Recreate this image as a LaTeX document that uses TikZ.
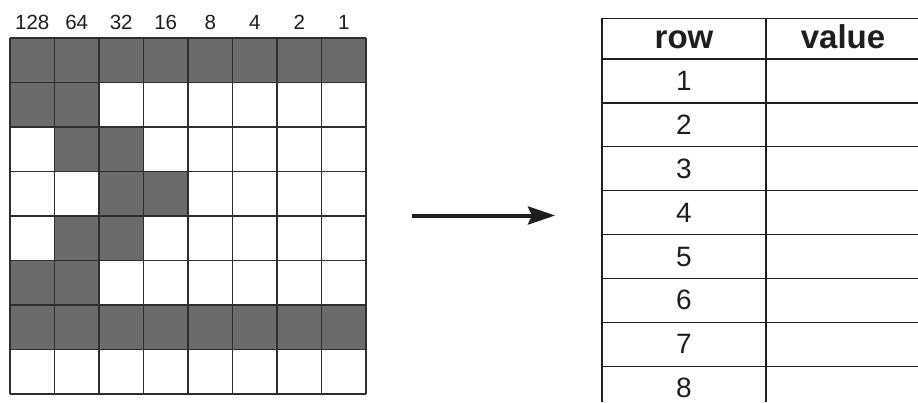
\documentclass[tikz,border=0pt]{standalone}
\usepackage{fontspec}
\setmainfont{Liberation Sans}
\usetikzlibrary{arrows.meta}
\definecolor{cellgray}{HTML}{6B6B6B}
\definecolor{linegray}{HTML}{2E2E2E}
\definecolor{inkc}{HTML}{1E1E1E}
\begin{document}
\begin{tikzpicture}[x=1pt,y=-1pt,
  bitlabel/.style={inner sep=0pt, anchor=base, font=\fontsize{20.5}{21}\selectfont, text=inkc},
  hdr/.style={inner sep=0pt, anchor=base, font=\fontsize{33}{34}\selectfont\bfseries, text=inkc},
  rownum/.style={inner sep=0pt, anchor=base, font=\fontsize{28}{30}\selectfont, text=inkc},
  gridline/.style={draw=linegray, line width=1.4pt},
  tabline/.style={draw=inkc, line width=1.3pt},
  cell/.style={fill=cellgray},
  bigarrow/.style={draw=inkc, line width=4pt, -{Stealth[length=27pt,width=18pt,inset=4pt]}}]
\useasboundingbox (0,0) rectangle (918,402);
\fill[white] (0,0) rectangle (918,402);
% dark cells
\foreach \c/\r in {1/1,2/1,3/1,4/1,5/1,6/1,7/1,8/1,
                   1/2,2/2, 2/3,3/3, 3/4,4/4, 2/5,3/5, 1/6,2/6,
                   1/7,2/7,3/7,4/7,5/7,6/7,7/7,8/7}
  \fill[cell] ({10+(\c-1)*44.5},{38+(\r-1)*44.5}) rectangle +(44.5,44.5);
% grid lines
\foreach \i in {0,...,8} {
  \draw[gridline] ({10+\i*44.5},38) -- ({10+\i*44.5},394);
  \draw[gridline] (10,{38+\i*44.5}) -- (366,{38+\i*44.5});
}
% bit labels
\foreach \v [count=\i] in {128,64,32,16,8,4,2,1}
  \node[bitlabel] (b\i) at ({10+(\i-0.5)*44.5},29) {\v};
% arrow
\coordinate (as) at (412,215.5);
\coordinate (ae) at (555,215.5);
\draw[bigarrow] (as) -- (ae);
% table
\draw[tabline] (602,18.3) -- (602,402);
\draw[tabline] (766,18.3) -- (766,402);
\draw[tabline] (602,18.3) -- (918,18.3);
\draw[tabline] (602,59) -- (918,59);
\foreach \k in {1,...,7}
  \draw[tabline] (602,{59+\k*43.9}) -- (918,{59+\k*43.9});
\node[hdr] (hrow) at (684,48) {row};
\node[hdr] (hval) at (843,48) {value};
\foreach \k in {1,...,8}
  \node[rownum] (r\k) at (684,{59+(\k-0.5)*43.9+9.5}) {\k};
\end{tikzpicture}
\end{document}
